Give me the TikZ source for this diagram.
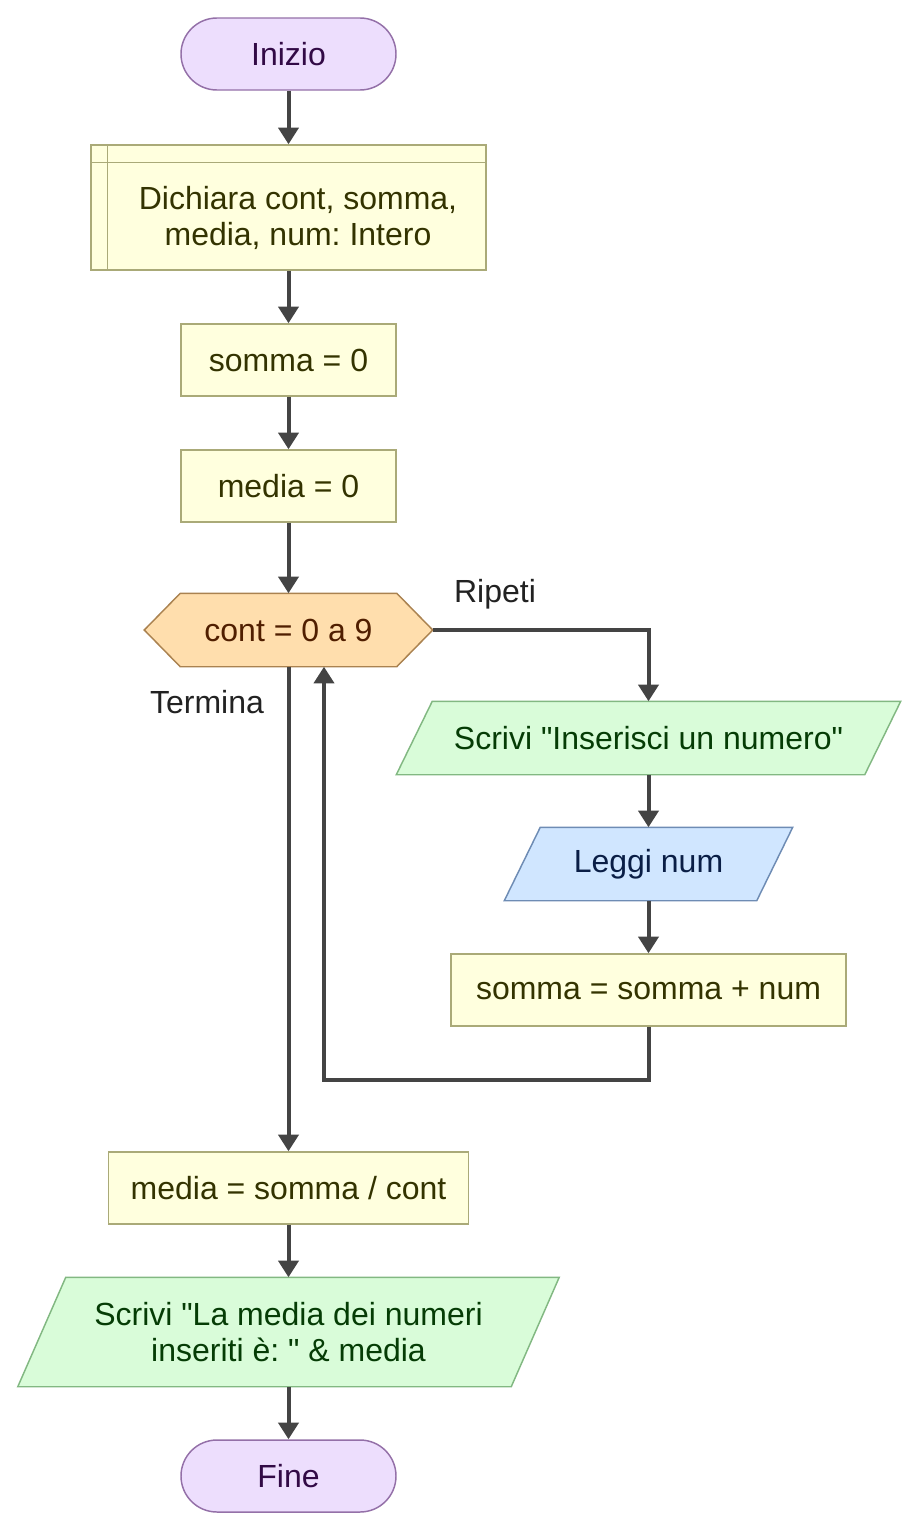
\documentclass[tikz,border=0pt]{standalone}
\usepackage{fontspec}
\setmainfont{Liberation Sans}[Ligatures=TeXOff]
\frenchspacing
\usetikzlibrary{arrows.meta,calc,backgrounds}
\definecolor{termF}{RGB}{237,222,253}
\definecolor{termB}{RGB}{148,112,168}
\definecolor{termT}{RGB}{50,10,70}
\definecolor{procF}{RGB}{255,255,222}
\definecolor{procB}{RGB}{170,170,120}
\definecolor{procT}{RGB}{51,51,0}
\definecolor{hexF}{RGB}{255,222,173}
\definecolor{hexB}{RGB}{170,130,80}
\definecolor{hexT}{RGB}{80,30,0}
\definecolor{outF}{RGB}{217,252,217}
\definecolor{outB}{RGB}{130,184,130}
\definecolor{outT}{RGB}{5,60,5}
\definecolor{inF}{RGB}{208,230,255}
\definecolor{inB}{RGB}{110,140,180}
\definecolor{inT}{RGB}{10,30,70}
\definecolor{lineC}{RGB}{68,68,68}
\definecolor{lblT}{RGB}{34,34,34}
\begin{document}
\begin{tikzpicture}[x=0.75pt,y=-0.75pt,
  base/.style={inner sep=0pt, align=center, font=\fontsize{24}{27}\selectfont, line width=1.1pt},
  term/.style={base, draw=termB, fill=termF, text=termT, rounded corners=27pt, minimum width=161.25pt, minimum height=54pt},
  proc/.style={base, draw=procB, fill=procF, text=procT, minimum height=54pt},
  shp/.style={base, minimum height=54pt},
  lbl/.style={base, text=lblT},
  arr/.style={draw=lineC, line width=3pt, -{Triangle[width=15pt,length=12.5pt]}},
  bord/.style={line width=1.1pt}]
\useasboundingbox (0,0) rectangle (919,1531);
\node[term] (start) at (288.5,54) {Inizio};
\node[proc, minimum width=296.25pt, minimum height=93.75pt] (decl) at (288.5,207.5) {};
\draw[procB, bord] ($(decl.north west)+(17,0)$) -- ($(decl.south west)+(17,0)$);
\draw[procB, bord] ($(decl.north west)+(0,18)$) -- ($(decl.north east)+(0,18)$);
\node[base, text=procT] (decltxt) at (298,218) {Dichiara cont, somma,\\ media, num: Intero};
\node[proc, minimum width=161.25pt] (s0) at (288.5,360) {somma = 0};
\node[proc, minimum width=161.25pt] (m0) at (288.5,486) {media = 0};
\node[shp, minimum width=215.25pt, text=hexT] (loop) at (288.5,630) {cont = 0 a 9};
\node[shp, minimum width=377.25pt, text=outT] (out1) at (648.5,738) {Scrivi "Inserisci un numero"};
\node[shp, minimum width=215.25pt, text=inT] (inp) at (648.5,864) {Leggi num};
\node[proc, minimum width=296.25pt] (acc) at (648.5,990) {somma = somma + num};
\node[proc, minimum width=270pt] (avg) at (288.5,1188) {media = somma / cont};
\node[shp, minimum width=405pt, minimum height=81pt, text=outT] (out2) at (288.5,1332) {Scrivi "La media dei numeri\\ inseriti è: " \& media};
\node[term] (end) at (288.5,1476) {Fine};
\node[lbl] (ripeti) at (495,594) {Ripeti};
\node[lbl] (termina) at (207,702) {Termina};
\begin{pgfonlayer}{background}
\draw[bord, draw=hexB, fill=hexF] (loop.west) -- ($(loop.north west)+(36,0)$) -- ($(loop.north east)+(-36,0)$) -- (loop.east) -- ($(loop.south east)+(-36,0)$) -- ($(loop.south west)+(36,0)$) -- cycle;
\draw[bord, draw=outB, fill=outF] (out1.south west) -- ($(out1.south east)+(-36,0)$) -- (out1.north east) -- ($(out1.north west)+(36,0)$) -- cycle;
\draw[bord, draw=inB, fill=inF] (inp.south west) -- ($(inp.south east)+(-36,0)$) -- (inp.north east) -- ($(inp.north west)+(36,0)$) -- cycle;
\draw[bord, draw=outB, fill=outF] (out2.south west) -- ($(out2.south east)+(-48,0)$) -- (out2.north east) -- ($(out2.north west)+(48,0)$) -- cycle;
\end{pgfonlayer}
\draw[arr] (start.south) -- (decl.north);
\draw[arr] (decl.south) -- (s0.north);
\draw[arr] (s0.south) -- (m0.north);
\draw[arr] (m0.south) -- (loop.north);
\draw[arr] (loop.east) -| (out1.north);
\draw[arr] (out1.south) -- (inp.north);
\draw[arr] (inp.south) -- (acc.north);
\coordinate (back) at (324,1080);
\draw[arr] (acc.south) |- (back) -- (back |- loop.south);
\draw[arr] (loop.south) -- (avg.north);
\draw[arr] (avg.south) -- (out2.north);
\draw[arr] (out2.south) -- (end.north);
\end{tikzpicture}
\end{document}
